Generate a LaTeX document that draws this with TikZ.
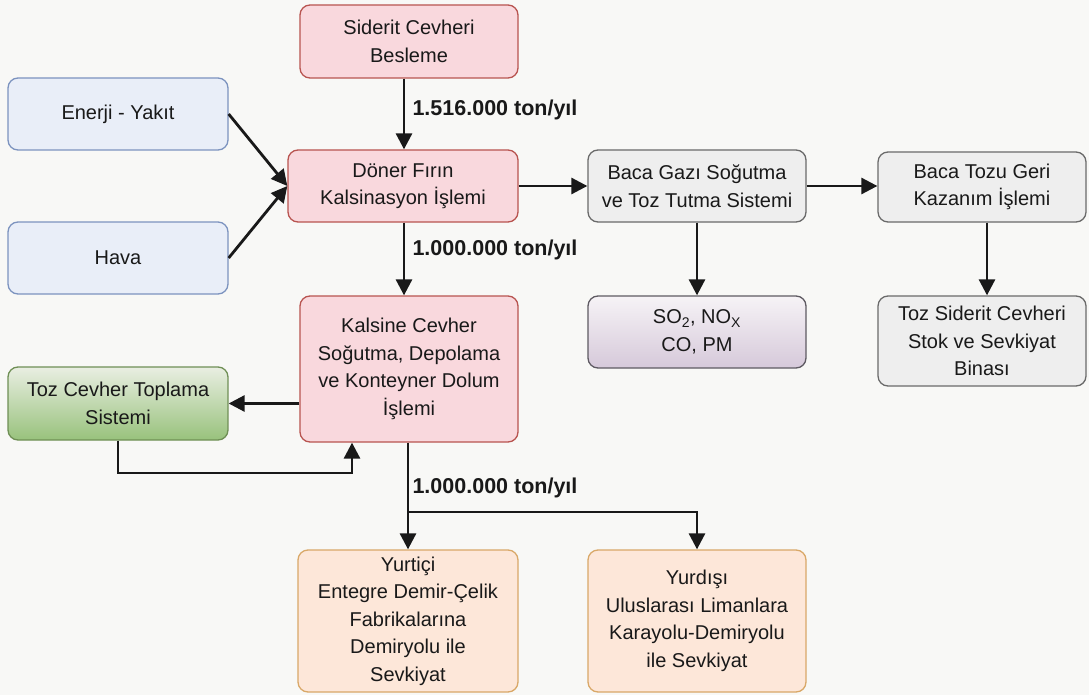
\documentclass[tikz,border=0pt]{standalone}
\usepackage{fontspec}
\setmainfont{Liberation Sans}
\usetikzlibrary{arrows.meta}
\definecolor{bg}{HTML}{F8F8F6}
\definecolor{pinkf}{HTML}{F9D8DD}
\definecolor{pinkd}{HTML}{B85450}
\definecolor{bluef}{HTML}{E9EEF8}
\definecolor{blued}{HTML}{7C93BF}
\definecolor{greyf}{HTML}{EEEEEE}
\definecolor{greyd}{HTML}{6A6A6A}
\definecolor{greent}{HTML}{E9EEE2}
\definecolor{greenb}{HTML}{98C27C}
\definecolor{greend}{HTML}{6F8F55}
\definecolor{purt}{HTML}{F6F3F6}
\definecolor{purb}{HTML}{D6C9DA}
\definecolor{purd}{HTML}{5E5A62}
\definecolor{peachf}{HTML}{FDE7D9}
\definecolor{peachd}{HTML}{D9A868}
\begin{document}
\begin{tikzpicture}[x=1pt,y=-1pt,
  box/.style={rounded corners=10pt, line width=1.3pt, align=center, inner sep=0pt,
    font=\fontsize{20}{27.5}\selectfont, text=black!90},
  pinkbox/.style={box, draw=pinkd, fill=pinkf},
  bluebox/.style={box, draw=blued, fill=bluef},
  greybox/.style={box, draw=greyd, fill=greyf},
  greenbox/.style={box, draw=greend, top color=greent, bottom color=greenb},
  purbox/.style={box, draw=purd, top color=purt, bottom color=purb},
  peachbox/.style={box, draw=peachd, fill=peachf},
  arr/.style={line width=2.8pt, draw=black!90, -{Triangle[length=16pt,width=16pt]}},
  lbl/.style={font=\fontsize{21.5}{23}\selectfont\bfseries, text=black!90, anchor=west}
]
\fill[bg] (0,0) rectangle (1089,695);
\useasboundingbox (0,0) rectangle (1089,695);

\node[pinkbox, minimum width=218pt, minimum height=73pt] (sid) at (409,41.5) {Siderit Cevheri\\Besleme};
\node[bluebox, minimum width=220pt, minimum height=72pt] (en) at (118,114) {Enerji - Yakıt};
\node[bluebox, minimum width=220pt, minimum height=72pt] (hava) at (118,258) {Hava};
\node[pinkbox, minimum width=230pt, minimum height=72pt] (don) at (403,186) {Döner Fırın\\Kalsinasyon İşlemi};
\node[greybox, minimum width=218pt, minimum height=72pt] (bgs) at (697,186) {Baca Gazı Soğutma\\ve Toz Tutma Sistemi};
\node[greybox, minimum width=208pt, minimum height=70pt] (btg) at (982,187) {Baca Tozu Geri\\Kazanım İşlemi};
\node[pinkbox, minimum width=218pt, minimum height=146pt] (kal) at (409,369) {Kalsine Cevher\\Soğutma, Depolama\\ve Konteyner Dolum\\İşlemi};
\node[purbox, minimum width=218pt, minimum height=72pt] (so) at (697,332) {SO\textsubscript{2}, NO\textsubscript{X}\\CO, PM};
\node[greybox, minimum width=208pt, minimum height=90pt] (tsc) at (982,341) {Toz Siderit Cevheri\\Stok ve Sevkiyat\\Binası};
\node[greenbox, minimum width=220pt, minimum height=73pt] (tct) at (118,403.5) {Toz Cevher Toplama\\Sistemi};
\node[peachbox, minimum width=220pt, minimum height=142pt] (yi) at (408,621) {Yurtiçi\\Entegre Demir-Çelik\\Fabrikalarına\\Demiryolu ile\\Sevkiyat};
\node[peachbox, minimum width=218pt, minimum height=142pt] (yd) at (697,621) {Yurdışı\\Uluslarası Limanlara\\Karayolu-Demiryolu\\ile Sevkiyat};

\draw[arr] (sid.south -| 404,0) -- (don.north -| 404,0);
\node[lbl] (l1) at (409,110) {1.516.000 ton/yıl};
\draw[arr] (en.east) -- (don.west);
\draw[arr] (hava.east) -- (don.west);
\draw[arr] (don.east) -- (bgs.west);
\draw[arr] (bgs.east) -- (btg.west |- bgs.east);
\draw[arr] (don.south -| 404,0) -- (kal.north -| 404,0);
\node[lbl] (l2) at (409,250) {1.000.000 ton/yıl};
\draw[arr] (bgs.south) -- (so.north);
\draw[arr] (btg.south -| 987,0) -- (tsc.north -| 987,0);
\draw[arr] (kal.west |- tct.east) -- (tct.east);
\coordinate (c1) at (118,473);
\coordinate (c2) at (352,473);
\draw[arr] (tct.south) -- (c1) -- (c2) -- (kal.south -| c2);
\coordinate (b1) at (408,512);
\coordinate (b2) at (697,512);
\draw[arr] (kal.south -| b1) -- (yi.north -| b1);
\draw[arr] (b1) -- (b2) -- (yd.north);
\node[lbl] (l3) at (409,488) {1.000.000 ton/yıl};
\end{tikzpicture}
\end{document}
